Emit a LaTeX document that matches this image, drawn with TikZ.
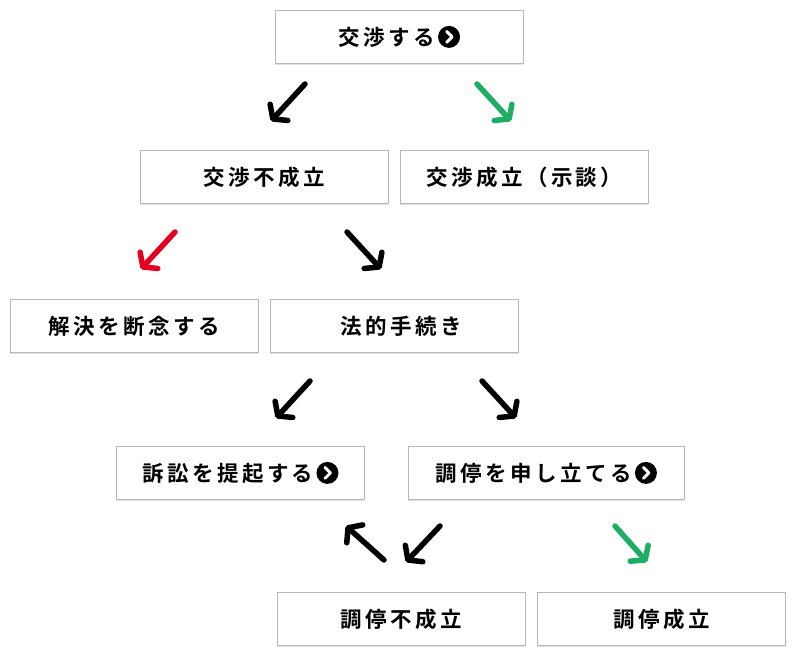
\documentclass[tikz,border=0pt]{standalone}
\usepackage{fontspec}
\setmainfont{Noto Sans CJK JP}[BoldFont={Noto Sans CJK JP Bold},BoldFeatures={LetterSpace=16}]
\usetikzlibrary{arrows.meta,shadows}
\definecolor{grn}{HTML}{1DAE63}
\definecolor{rd}{HTML}{E60020}
\newcommand{\goicon}{\tikz[baseline=-0.38em]{\fill (0,0) circle (11pt);\draw[white,line width=3pt,line cap=round,line join=round] (-2.5pt,5.5pt)--(3pt,0)--(-2.5pt,-5.5pt);}}
\begin{document}
\begin{tikzpicture}[x=1pt,y=-1pt,
  box/.style={draw=black!28,fill=white,line width=0.8pt,minimum width=248pt,minimum height=53pt,font=\bfseries\fontsize{21.5}{24}\selectfont,anchor=north west,
    drop shadow={shadow xshift=0pt,shadow yshift=-2pt,opacity=0.12,fill=black}},
  arr/.style={line width=5.5pt,line cap=round,-{Straight Barb[length=9pt,width=24pt,round]}}]
\useasboundingbox (0,0) rectangle (800,660);
\node[box] (n1) at (275,10) {交渉する\hspace{3pt}\goicon};
\node[box] (n2) at (140,150) {交渉不成立};
\node[box] (n3) at (400,150) {交渉成立（示談）};
\node[box] (n4) at (10,299) {解決を断念する};
\node[box] (n5) at (270,299) {\hspace{14pt}法的手続き};
\node[box] (n6) at (116,446) {訴訟を提起する\hspace{3pt}\goicon};
\node[box,minimum width=276pt] (n7) at (408,446) {調停を申し立てる\hspace{3pt}\goicon};
\node[box] (n8) at (277,592) {調停不成立};
\node[box] (n9) at (537,592) {調停成立};
\coordinate (a1s) at (305,84); \coordinate (a1e) at (271,121);
\coordinate (a2s) at (477,84); \coordinate (a2e) at (511,121);
\coordinate (a3s) at (175,232); \coordinate (a3e) at (141,269);
\coordinate (a4s) at (347,232); \coordinate (a4e) at (381,269);
\coordinate (a5s) at (310,381); \coordinate (a5e) at (276,418);
\coordinate (a6s) at (482,381); \coordinate (a6e) at (516,418);
\coordinate (a7s) at (384,560); \coordinate (a7e) at (346,526);
\coordinate (a8s) at (440,526); \coordinate (a8e) at (406,562);
\coordinate (a9s) at (615,526); \coordinate (a9e) at (647,562);
\draw[arr] (a1s)--(a1e);
\draw[arr,grn] (a2s)--(a2e);
\draw[arr,rd] (a3s)--(a3e);
\draw[arr] (a4s)--(a4e);
\draw[arr] (a5s)--(a5e);
\draw[arr] (a6s)--(a6e);
\draw[arr] (a7s)--(a7e);
\draw[arr] (a8s)--(a8e);
\draw[arr,grn] (a9s)--(a9e);
\end{tikzpicture}
\end{document}
